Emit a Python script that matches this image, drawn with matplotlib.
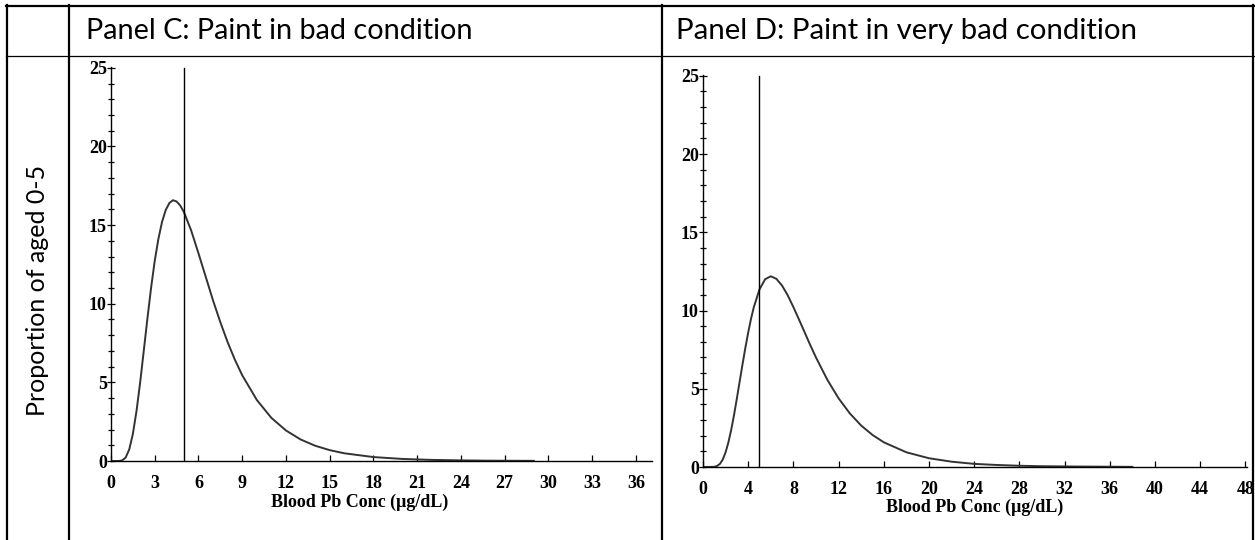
import matplotlib
matplotlib.use("Agg")
import matplotlib.pyplot as plt
from matplotlib.lines import Line2D
from matplotlib.ticker import MultipleLocator

# Panel C: paint in bad condition
c_conc = [0, 0.5, 0.75, 1, 1.25, 1.5, 1.75, 2, 2.25, 2.5, 2.75, 3, 3.25, 3.5, 3.75, 4, 4.25,
          4.5, 4.75, 5, 5.5, 6, 6.5, 7, 7.5, 8, 8.5, 9, 10, 11, 12, 13, 14, 15, 16, 18, 20,
          22, 24, 26, 29]
c_prop = [0, 0, 0.03, 0.21, 0.73, 1.72, 3.18, 5.0, 7.03, 9.08, 11.02, 12.73, 14.12, 15.2,
          15.95, 16.4, 16.58, 16.5, 16.24, 15.83, 14.65, 13.2, 11.7, 10.2, 8.82, 7.55, 6.43,
          5.45, 3.88, 2.74, 1.94, 1.37, 0.97, 0.69, 0.49, 0.25, 0.13, 0.07, 0.04, 0.02, 0.01]

# Panel D: paint in very bad condition
d_conc = [0, 1, 1.25, 1.5, 1.75, 2, 2.25, 2.5, 2.75, 3, 3.25, 3.5, 3.75, 4, 4.25, 4.5, 5,
          5.5, 6, 6.5, 7, 7.5, 8, 8.5, 9, 9.5, 10, 11, 12, 13, 14, 15, 16, 18, 20, 22, 24,
          26, 28, 30, 33, 38]
d_prop = [0, 0.01, 0.07, 0.2, 0.48, 0.94, 1.58, 2.39, 3.34, 4.39, 5.48, 6.57, 7.62, 8.59,
          9.47, 10.22, 11.35, 12.0, 12.19, 12.02, 11.59, 10.97, 10.22, 9.42, 8.6, 7.78, 7.0,
          5.58, 4.39, 3.42, 2.65, 2.05, 1.58, 0.94, 0.56, 0.34, 0.2, 0.13, 0.08, 0.05, 0.03,
          0.01]

ref_level = 5  # vertical reference line (ug/dL)
titles = ["Panel C: Paint in bad condition", "Panel D: Paint in very bad condition"]
row_label = "Proportion of aged 0-5"
xlabel = "Blood Pb Conc (\u03bcg/dL)"

W, H = 1255, 540
fig = plt.figure(figsize=(W / 100, H / 100), dpi=100)


def fx(px):
    return px / W


def fy(py):
    return 1 - py / H


# table grid
def hline(y, x0, x1, lw):
    fig.add_artist(Line2D([fx(x0), fx(x1)], [fy(y), fy(y)], color="black", lw=lw))


def vline(x, y0, y1, lw):
    fig.add_artist(Line2D([fx(x), fx(x)], [fy(y0), fy(y1)], color="black", lw=lw))


hline(6, 6, 1254, 1.6)
hline(55.5, 6, 1254, 0.9)
for x in (7, 69, 662, 1253):
    vline(x, 5, 540, 1.6)

hdr_font = ["Lato", "DejaVu Sans"]
fig.text(fx(86), fy(31), titles[0], fontsize=20.8, family=hdr_font, va="center", ha="left")
fig.text(fx(676), fy(31), titles[1], fontsize=21.2, family=hdr_font, va="center", ha="left")
fig.text(fx(38), fy(290), row_label, fontsize=18, family=hdr_font, rotation=90,
         va="center", ha="center")

tick_font = {"family": "Liberation Serif", "weight": "bold", "size": 13}

panels = [
    dict(x=c_conc, y=c_prop, rect=[fx(111), fy(461), (652 - 111) / W, (461 - 67) / H],
         xmax=37.1, xstep=3, xticks_max=36, lab_x=0.46, lab_y=-(502 - 461) / 394),
    dict(x=d_conc, y=d_prop, rect=[fx(703), fy(467), (1247 - 703) / W, (467 - 75) / H],
         xmax=48.15, xstep=4, xticks_max=48, lab_x=0.5, lab_y=-(507 - 467) / 392),
]

for p in panels:
    ax = fig.add_axes(p["rect"])
    ax.plot(p["x"], p["y"], color="#333333", lw=1.4, solid_joinstyle="round")
    ax.plot([ref_level, ref_level], [0, 25], color="black", lw=1.0)
    ax.set_xlim(0, p["xmax"])
    ax.set_ylim(0, 25.05)
    for s in ("top", "right"):
        ax.spines[s].set_visible(False)
    for s in ("left", "bottom"):
        ax.spines[s].set_linewidth(1.0)
    ax.set_xticks(range(0, p["xticks_max"] + 1, p["xstep"]))
    ax.set_yticks(range(0, 26, 5))
    ax.yaxis.set_minor_locator(MultipleLocator(1))
    ax.tick_params(axis="x", direction="in", length=4, width=0.9, pad=10)
    ax.tick_params(axis="y", which="major", direction="inout", length=6, width=0.9, pad=0)
    ax.tick_params(axis="y", which="minor", direction="inout", length=4, width=0.9)
    for lab in ax.get_xticklabels() + ax.get_yticklabels():
        lab.set_fontfamily(tick_font["family"])
        lab.set_fontweight(tick_font["weight"])
        lab.set_fontsize(tick_font["size"])
    ax.set_xlabel(xlabel, fontdict=tick_font, va="center")
    ax.xaxis.set_label_coords(p["lab_x"], p["lab_y"])
    ax.patch.set_alpha(0)

fig.savefig("out.png", dpi=100)
